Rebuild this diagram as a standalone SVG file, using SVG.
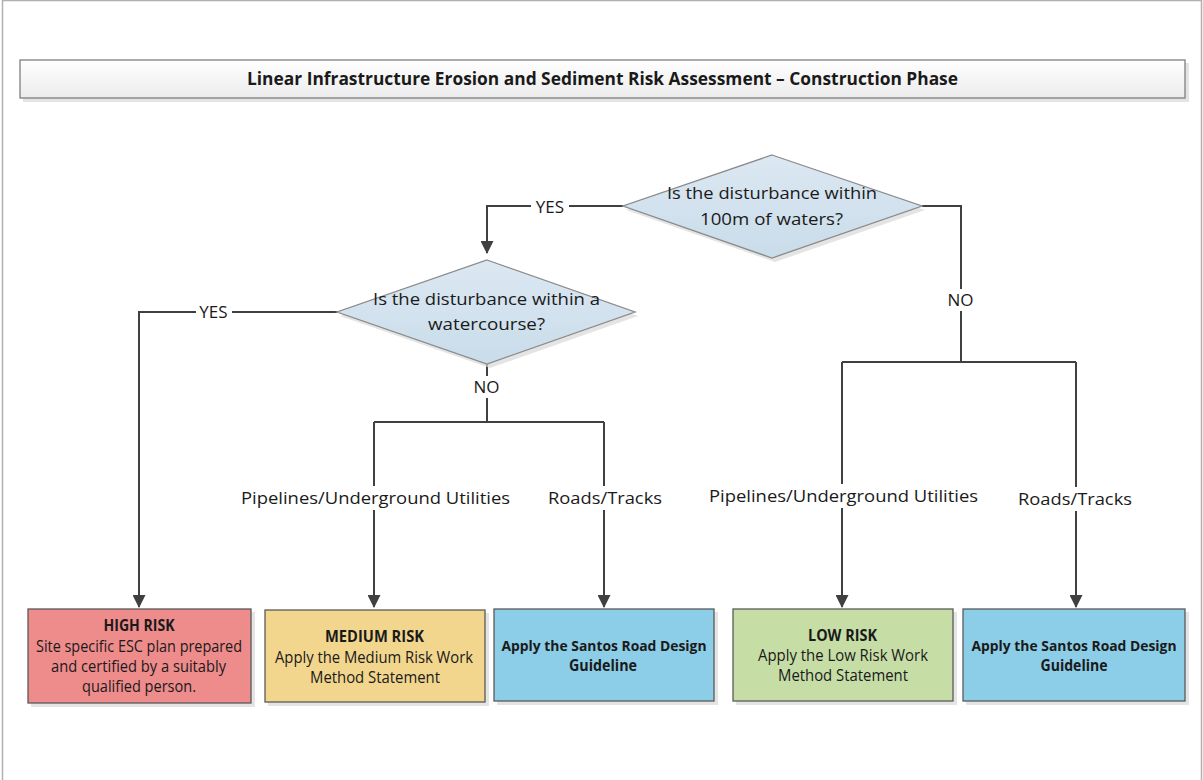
<svg xmlns="http://www.w3.org/2000/svg" width="1203" height="780" viewBox="0 0 1203 780">
<style>
text{font-family:"Open Sans","Noto Sans","Liberation Sans",sans-serif;fill:#1a1a1a;text-anchor:middle}
.t{font-size:16px}
.b{font-weight:bold}
.lbl{font-size:17px}
.conn{fill:none;stroke:#404040;stroke-width:2}
.box{stroke:#5a5a5a;stroke-width:1.3}
.sh{fill:#d9d9d9;opacity:0.7}
.dia{fill:url(#gd);stroke:#8a8a8a;stroke-width:1.3}
.bg{fill:#ffffff}
.sr{font-size:15px;font-weight:bold}
</style>
<defs>
<linearGradient id="gt" x1="0" y1="0" x2="0" y2="1"><stop offset="0" stop-color="#ffffff"/><stop offset="1" stop-color="#ececec"/></linearGradient>
<linearGradient id="gd" x1="0" y1="0" x2="0" y2="1"><stop offset="0" stop-color="#dce8f2"/><stop offset="1" stop-color="#c9dcea"/></linearGradient>
<marker id="arr" markerWidth="13" markerHeight="13" refX="12" refY="6.5" orient="auto" markerUnits="userSpaceOnUse" viewBox="0 0 13 13"><path d="M0,0 L13,6.5 L0,13 Z" fill="#404040"/></marker>
</defs>
<rect x="0" y="0" width="1203" height="780" fill="#ffffff"/>
<path d="M2.5,780 V0.5 H1201.5 V780" fill="none" stroke="#b0b0b0" stroke-width="1.5"/>

<g id="title">
<rect class="sh" x="23" y="63" width="1166" height="39"/>
<rect x="20" y="60" width="1165" height="38" fill="url(#gt)" stroke="#7f7f7f" stroke-width="1.3"/>
<text class="b" x="602.5" y="85" font-size="17" textLength="711" lengthAdjust="spacingAndGlyphs">Linear Infrastructure Erosion and Sediment Risk Assessment – Construction Phase</text>
</g>

<g id="connectors">
<path class="conn" d="M623,206 H487 V253" marker-end="url(#arr)"/>
<path class="conn" d="M922,206 H961 V362"/>
<path class="conn" d="M842,362 H1076"/>
<path class="conn" d="M842,362 V607" marker-end="url(#arr)"/>
<path class="conn" d="M1076,362 V607" marker-end="url(#arr)"/>
<path class="conn" d="M337,312 H139 V607" marker-end="url(#arr)"/>
<path class="conn" d="M487,364 V422"/>
<path class="conn" d="M374,422 H604"/>
<path class="conn" d="M374,422 V607" marker-end="url(#arr)"/>
<path class="conn" d="M604,422 V607" marker-end="url(#arr)"/>
<rect class="bg" x="531" y="196" width="38" height="22"/>
<text class="lbl" x="550" y="213">YES</text>
<rect class="bg" x="196" y="301" width="36" height="22"/>
<text class="lbl" x="213.5" y="318">YES</text>
<rect class="bg" x="944" y="289" width="34" height="22"/>
<text class="lbl" x="960.5" y="306">NO</text>
<rect class="bg" x="470" y="376" width="34" height="22"/>
<text class="lbl" x="486.5" y="393">NO</text>
<rect class="bg" x="238" y="486" width="276" height="24"/>
<text class="lbl" x="375.5" y="504" textLength="269" lengthAdjust="spacingAndGlyphs">Pipelines/Underground Utilities</text>
<rect class="bg" x="545" y="486" width="120" height="24"/>
<text class="lbl" x="605" y="504" textLength="114" lengthAdjust="spacingAndGlyphs">Roads/Tracks</text>
<rect class="bg" x="706" y="484" width="276" height="24"/>
<text class="lbl" x="843.5" y="502" textLength="269" lengthAdjust="spacingAndGlyphs">Pipelines/Underground Utilities</text>
<rect class="bg" x="1015" y="487" width="120" height="24"/>
<text class="lbl" x="1075" y="505" textLength="114" lengthAdjust="spacingAndGlyphs">Roads/Tracks</text>
</g>

<g id="q1">
<polygon class="sh" points="775,159 925,210 775,262 626,210"/>
<polygon class="dia" points="772,155 922,206 772,258 623,206"/>
<text class="t" x="772" y="199" font-size="17" textLength="210" lengthAdjust="spacingAndGlyphs">Is the disturbance within</text>
<text class="t" x="771.5" y="225" font-size="17" textLength="143" lengthAdjust="spacingAndGlyphs">100m of waters?</text>
</g>

<g id="q2">
<polygon class="sh" points="490,264 638,316 490,368 340,316"/>
<polygon class="dia" points="487,260 635,312 487,364 337,312"/>
<text class="t" x="486.5" y="305" font-size="17" textLength="227" lengthAdjust="spacingAndGlyphs">Is the disturbance within a</text>
<text class="t" x="486.5" y="330" font-size="17" textLength="117" lengthAdjust="spacingAndGlyphs">watercourse?</text>
</g>

<g id="high">
<rect class="sh" x="31" y="612" width="224" height="95"/>
<rect class="box" x="28" y="609" width="223" height="94" fill="#ee8b8b"/>
<text class="t b" x="139" y="631" textLength="71" lengthAdjust="spacingAndGlyphs">HIGH RISK</text>
<text class="t" x="139" y="652" textLength="206" lengthAdjust="spacingAndGlyphs">Site specific ESC plan prepared</text>
<text class="t" x="138.5" y="672" textLength="175" lengthAdjust="spacingAndGlyphs">and certified by a suitably</text>
<text class="t" x="139" y="692" textLength="114" lengthAdjust="spacingAndGlyphs">qualified person.</text>
</g>

<g id="medium">
<rect class="sh" x="268" y="613" width="221" height="93"/>
<rect class="box" x="265" y="610" width="220" height="92" fill="#f2d68e"/>
<text class="t b" x="374.5" y="642" textLength="99" lengthAdjust="spacingAndGlyphs">MEDIUM RISK</text>
<text class="t" x="374" y="663" textLength="198" lengthAdjust="spacingAndGlyphs">Apply the Medium Risk Work</text>
<text class="t" x="375" y="683" textLength="130" lengthAdjust="spacingAndGlyphs">Method Statement</text>
</g>

<g id="roads1">
<rect class="sh" x="497" y="612" width="221" height="93"/>
<rect class="box" x="494" y="609" width="220" height="92" fill="#8ccde7"/>
<text class="sr" x="604" y="651" textLength="205" lengthAdjust="spacingAndGlyphs">Apply the Santos Road Design</text>
<text class="t b" x="603" y="671" textLength="68" lengthAdjust="spacingAndGlyphs">Guideline</text>
</g>

<g id="low">
<rect class="sh" x="736" y="612" width="221" height="93"/>
<rect class="box" x="733" y="609" width="220" height="92" fill="#c6dea6"/>
<text class="t b" x="842.5" y="641" textLength="69" lengthAdjust="spacingAndGlyphs">LOW RISK</text>
<text class="t" x="843" y="661" textLength="170" lengthAdjust="spacingAndGlyphs">Apply the Low Risk Work</text>
<text class="t" x="843" y="681" textLength="130" lengthAdjust="spacingAndGlyphs">Method Statement</text>
</g>

<g id="roads2">
<rect class="sh" x="966" y="612" width="223" height="93"/>
<rect class="box" x="963" y="609" width="222" height="92" fill="#8ccde7"/>
<text class="sr" x="1074" y="651" textLength="205" lengthAdjust="spacingAndGlyphs">Apply the Santos Road Design</text>
<text class="t b" x="1074" y="671" textLength="67" lengthAdjust="spacingAndGlyphs">Guideline</text>
</g>
</svg>
